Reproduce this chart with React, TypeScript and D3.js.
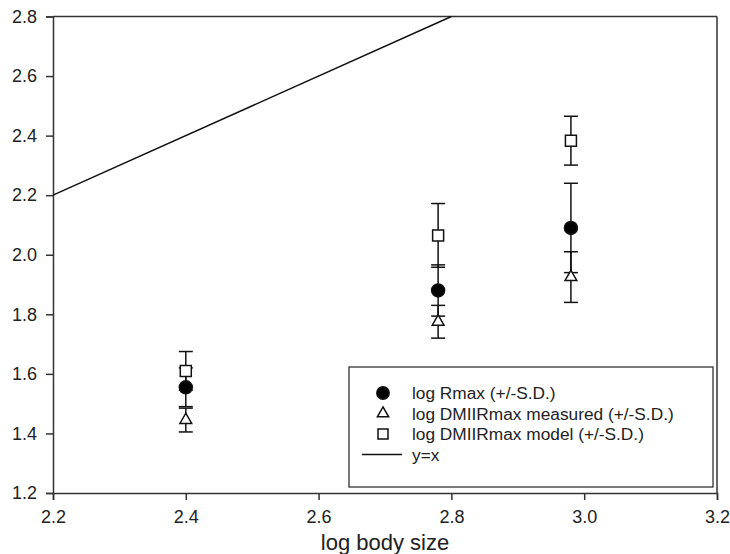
import React, { useEffect, useRef } from "react";
import * as d3 from "d3";

// log body size of each group
const bodySize = [2.4, 2.78, 2.98];

const rmaxMean = [1.555, 1.88, 2.09];
const rmaxSd = [0.065, 0.086, 0.15];

const measuredMean = [1.445, 1.775, 1.925];
const measuredSd = [0.04, 0.055, 0.085];

const modelMean = [1.61, 2.065, 2.383];
const modelSd = [0.065, 0.107, 0.082];

const xTicks = [2.2, 2.4, 2.6, 2.8, 3.0, 3.2];
const yTicks = [1.2, 1.4, 1.6, 1.8, 2.0, 2.2, 2.4, 2.6, 2.8];
const identityX = [2.2, 2.8];

const legendLabels = [
  "log Rmax (+/-S.D.)",
  "log DMIIRmax measured (+/-S.D.)",
  "log DMIIRmax model (+/-S.D.)",
  "y=x",
];

const W = 730;
const H = 554;
const FONT = "'Liberation Sans', Arial, sans-serif";
const INK = "#222";

export default function App() {
  const ref = useRef<SVGSVGElement>(null);

  useEffect(() => {
    const svg = d3.select(ref.current);
    svg.selectAll("*").remove();

    const x = d3.scaleLinear().domain([2.2, 3.2]).range([53, 717]);
    const y = d3.scaleLinear().domain([1.2, 2.8]).range([493, 16.5]);

    svg.append("rect").attr("width", W).attr("height", H).attr("fill", "#fff");

    // frame top + right
    svg.append("line")
      .attr("x1", x(2.2)).attr("x2", x(3.2))
      .attr("y1", y(2.8)).attr("y2", y(2.8))
      .attr("stroke", "#333").attr("stroke-width", 1.5);
    svg.append("line")
      .attr("x1", x(3.2)).attr("x2", x(3.2))
      .attr("y1", y(2.8)).attr("y2", y(1.2))
      .attr("stroke", "#333").attr("stroke-width", 1.5);

    const xAxis = svg.append("g")
      .attr("transform", `translate(0,${y(1.2)})`)
      .call(d3.axisBottom(x).tickValues(xTicks).tickSizeOuter(0).tickSize(7).tickPadding(10).tickFormat(d3.format(".1f")));
    const yAxis = svg.append("g")
      .attr("transform", `translate(${x(2.2)},0)`)
      .call(d3.axisLeft(y).tickValues(yTicks).tickSizeOuter(0).tickSize(7).tickPadding(9).tickFormat(d3.format(".1f")));

    [xAxis, yAxis].forEach(a => {
      a.select(".domain").attr("stroke", "#333").attr("stroke-width", 1.5);
      a.selectAll(".tick line").attr("stroke", "#333").attr("stroke-width", 1.5);
      a.selectAll(".tick text")
        .attr("fill", INK)
        .style("font-family", FONT)
        .style("font-size", "18px");
    });

    svg.append("text")
      .attr("x", x(2.7))
      .attr("y", 550)
      .attr("text-anchor", "middle")
      .attr("fill", INK)
      .style("font-family", FONT)
      .style("font-size", "22px")
      .text("log body size");

    // y = x line
    const line = d3.line<number>().x(d => x(d)).y(d => y(d));
    svg.append("path")
      .datum(identityX)
      .attr("d", line)
      .attr("fill", "none")
      .attr("stroke", "#111")
      .attr("stroke-width", 1.5);

    const series = [
      { mean: modelMean, sd: modelSd, shape: d3.symbolSquare, size: 121, fill: "#fff" },
      { mean: rmaxMean, sd: rmaxSd, shape: d3.symbolCircle, size: 133, fill: "#000" },
      { mean: measuredMean, sd: measuredSd, shape: d3.symbolTriangle, size: 60, fill: "#fff" },
    ];

    const capW = 7;
    const bars = svg.append("g").attr("stroke", "#111").attr("stroke-width", 1.5);
    series.forEach(s => {
      bodySize.forEach((bx, i) => {
        const cx = x(bx);
        const top = y(s.mean[i] + s.sd[i]);
        const bot = y(s.mean[i] - s.sd[i]);
        bars.append("line").attr("x1", cx).attr("x2", cx).attr("y1", top).attr("y2", bot);
        bars.append("line").attr("x1", cx - capW).attr("x2", cx + capW).attr("y1", top).attr("y2", top);
        bars.append("line").attr("x1", cx - capW).attr("x2", cx + capW).attr("y1", bot).attr("y2", bot);
      });
    });

    series.forEach(s => {
      svg.append("g")
        .selectAll("path")
        .data(bodySize)
        .join("path")
        .attr("transform", (d, i) => `translate(${x(d)},${y(s.mean[i])})`)
        .attr("d", d3.symbol().type(s.shape).size(s.size)())
        .attr("fill", s.fill)
        .attr("stroke", "#111")
        .attr("stroke-width", 1.5);
    });

    // legend
    const lg = svg.append("g");
    lg.append("rect")
      .attr("x", 349).attr("y", 367)
      .attr("width", 364).attr("height", 120)
      .attr("fill", "#fff")
      .attr("stroke", "#333")
      .attr("stroke-width", 1.3);

    const legendShapes = [
      { shape: d3.symbolCircle, size: 120, fill: "#000" },
      { shape: d3.symbolTriangle, size: 55, fill: "#fff" },
      { shape: d3.symbolSquare, size: 100, fill: "#fff" },
    ];
    legendLabels.forEach((label, i) => {
      const ly = 393 + i * 20.5;
      if (i < 3) {
        const ls = legendShapes[i];
        lg.append("path")
          .attr("transform", `translate(383,${ly})`)
          .attr("d", d3.symbol().type(ls.shape).size(ls.size)())
          .attr("fill", ls.fill)
          .attr("stroke", "#111")
          .attr("stroke-width", 1.5);
      } else {
        lg.append("line")
          .attr("x1", 362).attr("x2", 402)
          .attr("y1", ly).attr("y2", ly)
          .attr("stroke", "#111").attr("stroke-width", 1.5);
      }
      lg.append("text")
        .attr("x", 412)
        .attr("y", ly)
        .attr("dy", "0.35em")
        .attr("fill", INK)
        .style("font-family", FONT)
        .style("font-size", "17.3px")
        .text(label);
    });
  }, []);

  return (
    <svg
      ref={ref}
      width={W}
      height={H}
      style={{ position: "absolute", left: 0, top: 0 }}
    />
  );
}
